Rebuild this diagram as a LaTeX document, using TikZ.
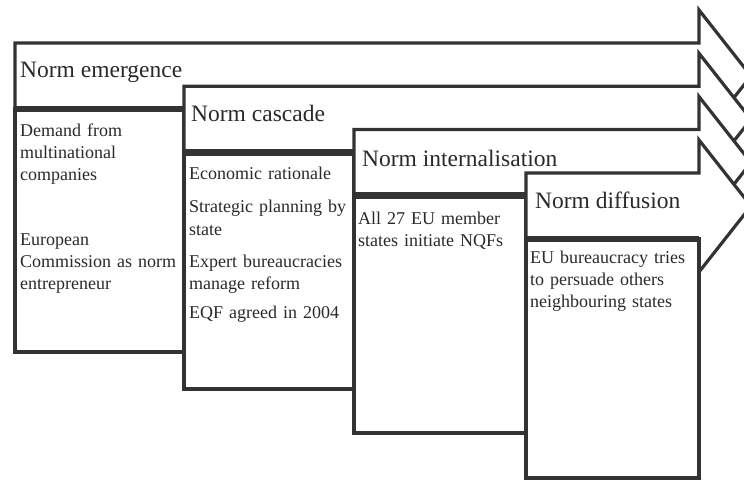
\documentclass[tikz,border=0pt]{standalone}
\usepackage{fontspec}
\setmainfont{Liberation Serif}
\usetikzlibrary{positioning}
\definecolor{linegray}{HTML}{333333}
\definecolor{textgray}{HTML}{2A2A2A}
\tikzset{
  stagearrow/.style={draw=linegray, fill=white, line width=3.2pt, line join=miter},
  contentbox/.style={draw=linegray, fill=white, line width=3.2pt},
  divider/.style={draw=linegray, line width=6.5pt},
  titletext/.style={anchor=base west, inner sep=0pt, text=textgray, font=\fontsize{23.5}{28}\selectfont},
  itemtext/.style={anchor=base west, inner sep=0pt, text=textgray, align=left, text width=165pt, font=\fontsize{18}{22}\selectfont},
}

\begin{document}
\begin{tikzpicture}[x=1pt, y=-1pt]
  \useasboundingbox (0,0) rectangle (744,481);
  \clip (0,0) rectangle (744,481);

  % stage 1
  \draw[stagearrow] (15,43) -- (699,43) -- (699,10) -- (751,76) -- (699,142) -- (699,109) -- (15,109) -- cycle;
  \draw[contentbox] (15,109) rectangle (184,352);
  \draw[divider] (15,109) -- (184,109);
  \node[titletext] (emergence) at (20,78) {Norm emergence};
  \node[itemtext] (demand) at (20,137) {Demand from\\multinational\\companies};
  \node[itemtext] (commission) at (20,245) {European\\Commission as norm\\entrepreneur};

  % stage 2
  \draw[stagearrow] (184,86.3) -- (699,86.3) -- (699,53.3) -- (751,119.3) -- (699,185.3) -- (699,152.3) -- (184,152.3) -- cycle;
  \draw[contentbox] (184,152.3) rectangle (354,389);
  \draw[divider] (184,152.3) -- (354,152.3);
  \node[titletext] (cascade) at (191,122) {Norm cascade};
  \node[itemtext] (rationale) at (189,180) {Economic rationale};
  \node[itemtext] (planning) at (189,213) {Strategic planning by\\state};
  \node[itemtext] (experts) at (189,267) {Expert bureaucracies\\manage reform};
  \node[itemtext] (eqf) at (189,318) {EQF agreed in 2004};

  % stage 3
  \draw[stagearrow] (354,129.6) -- (699,129.6) -- (699,96.6) -- (751,162.6) -- (699,228.6) -- (699,195.6) -- (354,195.6) -- cycle;
  \draw[contentbox] (354,195.6) rectangle (526,433);
  \draw[divider] (354,195.6) -- (526,195.6);
  \node[titletext] (internalisation) at (362,167) {Norm internalisation};
  \node[itemtext] (members) at (358,225) {All 27 EU member\\states initiate NQFs};

  % stage 4
  \draw[stagearrow] (526,173) -- (699,173) -- (699,140) -- (751,206) -- (699,272) -- (699,239) -- (526,239) -- cycle;
  \draw[contentbox] (526,239) rectangle (699,478);
  \draw[divider] (526,239) -- (699,239);
  \node[titletext] (diffusion) at (535,208) {Norm diffusion};
  \node[itemtext] (persuade) at (530,263) {EU bureaucracy tries\\to persuade others\\neighbouring states};
\end{tikzpicture}
\end{document}
